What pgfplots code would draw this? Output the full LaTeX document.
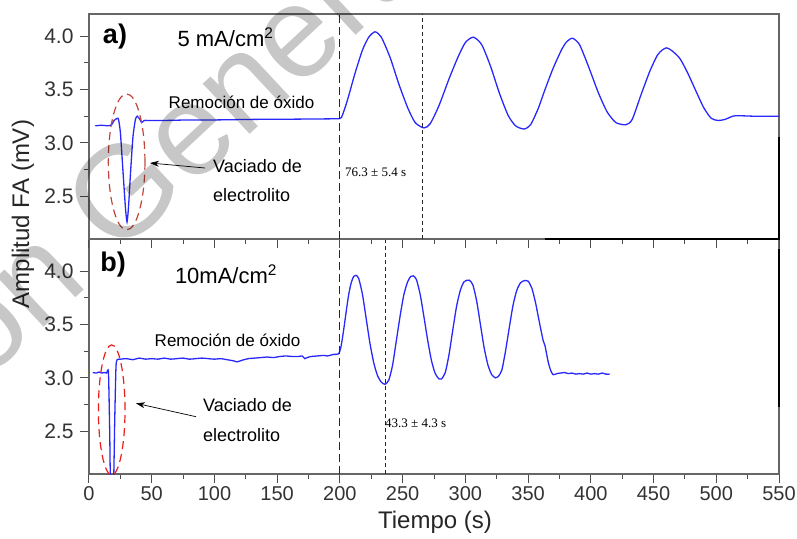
\documentclass[border=0pt]{standalone}
\usepackage{fontspec}
\setmainfont{Liberation Sans}
\newfontfamily\seriff{Liberation Serif}
\usepackage{pgfplots}
\usetikzlibrary{arrows.meta}
\pgfplotsset{compat=1.18}
\definecolor{lineblue}{RGB}{40,40,250}
\definecolor{ellred1}{RGB}{190,70,60}
\definecolor{ellred2}{RGB}{235,30,25}
\pgfplotstableread{
t v
5 3.16
10 3.165
15 3.16
18 3.17
20 3.21
22.5 3.23
23.5 3.22
25 3.10
27 2.75
29 2.40
30.3 2.26
31.5 2.40
33 2.70
35 3.05
37 3.22
38.5 3.25
40.5 3.22
42 3.19
44 3.21
47 3.21
60 3.21
80 3.215
100 3.215
130 3.22
160 3.222
190 3.225
200 3.228
202 3.26
206 3.40
212 3.65
218 3.87
223 3.99
228 4.04
233 3.99
240 3.80
247 3.55
254 3.33
260 3.19
267 3.14
272 3.18
279 3.35
287 3.60
294 3.80
300 3.94
306.4 3.99
313 3.92
320 3.72
327 3.47
334 3.26
340 3.16
346.8 3.13
352 3.17
358 3.32
363.5 3.50
370 3.70
377 3.88
381 3.95
385.5 3.98
391 3.92
398 3.72
406 3.47
413 3.29
420 3.19
428 3.17
433 3.22
440 3.45
447 3.67
453 3.82
457 3.87
460.5 3.89
465 3.86
471 3.79
477 3.66
484 3.48
490 3.33
496 3.23
501.7 3.21
507 3.22
512 3.245
516 3.255
530 3.25
550 3.25
}\topdata
\pgfplotstableread{
t v
3 3.05
6 3.045
8 3.055
10 3.045
12 3.05
14 3.045
15.5 3.05
16.5 2.5
17.2 2.0
19.5 2.0
20.5 2.6
21.5 3.1
22.5 3.17
25 3.175
30 3.18
35 3.17
40 3.185
45 3.175
50 3.18
55 3.175
60 3.185
65 3.175
70 3.18
75 3.185
80 3.175
85 3.18
90 3.185
95 3.18
100 3.175
105 3.18
110 3.17
115 3.16
118 3.15
122 3.165
127 3.18
132 3.185
137 3.19
142 3.195
147 3.19
152 3.20
157 3.205
162 3.20
167 3.20
170 3.205
172 3.18
174 3.19
177 3.20
182 3.205
187 3.21
190 3.205
192 3.21
195 3.22
199 3.225
201 3.30
203 3.45
205 3.62
207 3.78
209 3.89
211 3.95
212.8 3.96
215 3.93
218 3.78
221 3.55
224 3.32
227 3.14
230 3.02
233 2.96
236 2.94
239 2.98
242 3.12
245 3.35
248 3.58
251 3.78
254 3.90
256.5 3.95
258.5 3.955
261 3.92
264 3.78
267 3.57
270 3.35
273 3.16
276 3.04
279 2.99
281 2.99
284 3.05
287 3.22
290 3.45
293 3.67
296 3.82
299 3.90
303 3.915
306 3.87
309 3.72
312 3.50
315 3.28
318 3.12
321 3.03
324 3.00
326 3.01
329 3.07
332 3.25
335 3.47
338 3.68
341 3.82
344 3.89
347 3.91
350 3.905
353 3.84
356 3.70
359 3.52
362 3.35
363.5 3.30
366 3.15
368 3.07
370 3.03
373 3.04
376 3.045
379 3.05
382 3.04
385 3.045
388 3.035
391 3.04
394 3.035
397 3.045
400 3.035
403 3.04
406 3.035
409 3.045
412 3.035
415 3.035
}\botdata
\begin{document}
\begin{tikzpicture}[x=1pt,y=1pt]
\pgfplotsset{
  panel/.style={
    scale only axis, width=690pt, xmin=0, xmax=550,
    axis line style={draw=black!60, line width=1.2pt},
    tick align=outside, tick style={black!70, line width=1pt},
    major tick length=9pt, minor tick length=5pt,
    xtick={0,50,...,550}, minor x tick num=1,
    ytick={2.5,3.0,3.5,4.0}, minor y tick num=1,
    xtick pos=bottom, ytick pos=left,
    /pgf/number format/assume math mode=true,
    ticklabel style={font=\fontsize{20}{20}\selectfont, text=black!80},
    yticklabel style={font=\fontsize{21}{21}\selectfont, xshift=-3pt, /pgf/number format/fixed, /pgf/number format/fixed zerofill, /pgf/number format/precision=1},
    clip mode=individual,
  }
}
% bottom panel
\begin{axis}[panel, name=bot, at={(0pt,0pt)}, anchor=south west, height=235pt, ymin=2.1, ymax=4.3]
\addplot[lineblue, line width=1.3pt, smooth, tension=0.4] table[x=t,y=v] {\botdata};
\draw[black!85, line width=1pt, dash pattern=on 8pt off 4pt] (axis cs:200,2.1) -- (axis cs:200,4.3);
\draw[black!85, line width=0.8pt, dash pattern=on 4pt off 3pt] (axis cs:236,2.1) -- (axis cs:236,4.3);
\draw[ellred2, line width=1.2pt, dash pattern=on 8pt off 5pt] (axis cs:18.1,2.70) ellipse [x radius=13.3pt, y radius=65pt];
\draw[black, line width=2.5pt] (axis cs:550,4.204) -- (axis cs:550,2.728);
\end{axis}
% top panel
\begin{axis}[panel, at={(bot.north west)}, anchor=south west, height=225pt, ymin=2.1, ymax=4.207, xticklabels={}]
\addplot[lineblue, line width=1.3pt, smooth, tension=0.4] table[x=t,y=v] {\topdata};
\draw[black!85, line width=1pt, dash pattern=on 8pt off 4pt] (axis cs:200,2.1) -- (axis cs:200,4.207);
\draw[black!85, line width=0.8pt, dash pattern=on 4pt off 3pt] (axis cs:266,2.1) -- (axis cs:266,4.207);
\draw[ellred1, line width=1.2pt, dash pattern=on 8pt off 5pt] (axis cs:30,2.822) ellipse [x radius=18.3pt, y radius=68pt];
\draw[black, line width=2.5pt] (axis cs:550,3.053) -- (axis cs:550,2.1) -- (axis cs:363.5,2.1);
\end{axis}
% annotations top
\node[font=\fontsize{27}{27}\selectfont\bfseries] at (26,437) {a)};
\node[font=\fontsize{22}{22}\selectfont] at (136.5,437) {5 mA/cm\textsuperscript{2}};
\node[font=\fontsize{17}{17}\selectfont] at (152.5,372) {Remoción de óxido};
\node[font=\fontsize{18}{18}\selectfont, anchor=west, inner sep=0] at (124,308) {Vaciado de};
\node[font=\fontsize{18}{18}\selectfont, anchor=west, inner sep=0] at (124,279) {electrolito};
\draw[-{Stealth[length=9pt,width=6pt]}, line width=0.7pt] (116,306) -- (61,311);
\node[font=\fontsize{13}{13}\selectfont\seriff, anchor=west, inner sep=0] at (256,302) {76.3 ± 5.4 s};
% annotations bottom
\node[font=\fontsize{27}{27}\selectfont\bfseries] at (24,209) {b)};
\node[font=\fontsize{22}{22}\selectfont] at (137,200) {10mA/cm\textsuperscript{2}};
\node[font=\fontsize{17}{17}\selectfont] at (138.5,134) {Remoción de óxido};
\node[font=\fontsize{18}{18}\selectfont, anchor=west, inner sep=0] at (114,69) {Vaciado de};
\node[font=\fontsize{18}{18}\selectfont, anchor=west, inner sep=0] at (114,39) {electrolito};
\draw[-{Stealth[length=9pt,width=6pt]}, line width=0.7pt] (107,57.3) -- (47,70.7);
\node[font=\fontsize{13}{13}\selectfont\seriff, anchor=west, inner sep=0] at (296,51) {43.3 ± 4.3 s};
% axis labels
\node[font=\fontsize{24}{24}\selectfont, text=black!85, rotate=90] at (-66,260) {Amplitud FA (mV)};
\node[font=\fontsize{24}{24}\selectfont, text=black!85] at (346,-48) {Tiempo (s)};
% watermark
\node[rotate=43, anchor=base west, inner sep=0, text=black, text opacity=0.22, font=\fontsize{130}{130}\selectfont] at (27.7,215) {Generada};
\node[rotate=43, anchor=base east, inner sep=0, text=black, text opacity=0.22, font=\fontsize{130}{130}\selectfont] at (27.7,215) {Versión\kern0.28em};
\pgfresetboundingbox
\path[use as bounding box] (-89,-64) rectangle (708,474);
\end{tikzpicture}
\end{document}
